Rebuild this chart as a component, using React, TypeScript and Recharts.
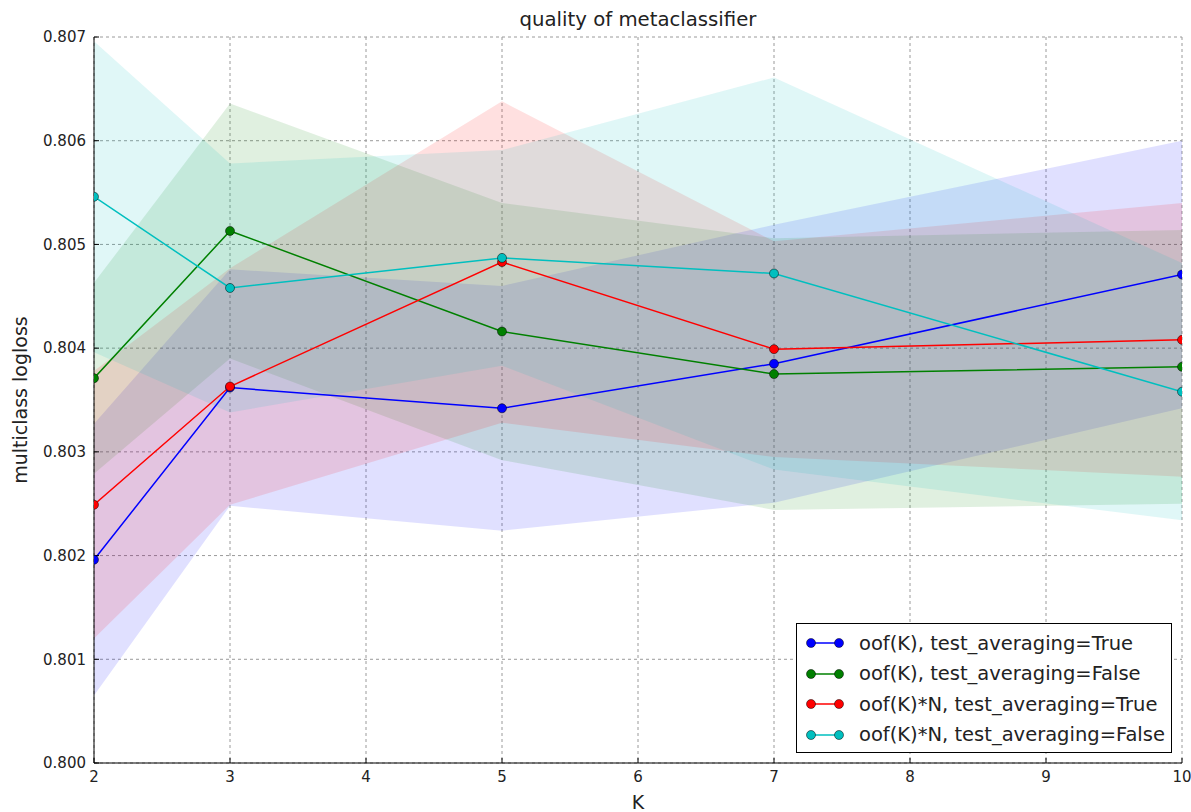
import React from 'react';
import { ComposedChart, Area, Line, XAxis, YAxis, CartesianGrid } from 'recharts';

const K = [2, 3, 5, 7, 10];

const meanOofTrue = [0.80196, 0.80362, 0.80342, 0.80385, 0.80471];
const stdOofTrue = [0.00131, 0.00114, 0.00118, 0.00134, 0.00129];

const meanOofFalse = [0.80371, 0.80513, 0.80416, 0.80375, 0.80382];
const stdOofFalse = [0.00092, 0.00123, 0.00124, 0.00131, 0.00132];

const meanOofNTrue = [0.80249, 0.80363, 0.80483, 0.80399, 0.80408];
const stdOofNTrue = [0.00129, 0.00114, 0.00155, 0.00104, 0.00132];

const meanOofNFalse = [0.80546, 0.80458, 0.80487, 0.80472, 0.80358];
const stdOofNFalse = [0.0015, 0.0012, 0.00104, 0.00189, 0.00124];

const xTicks = [2, 3, 4, 5, 6, 7, 8, 9, 10];
const yTicks = [0.8, 0.801, 0.802, 0.803, 0.804, 0.805, 0.806, 0.807];

const series = [
  { key: 'a', name: 'oof(K), test_averaging=True', color: '#0000ff', mean: meanOofTrue, std: stdOofTrue },
  { key: 'b', name: 'oof(K), test_averaging=False', color: '#008000', mean: meanOofFalse, std: stdOofFalse },
  { key: 'c', name: 'oof(K)*N, test_averaging=True', color: '#ff0000', mean: meanOofNTrue, std: stdOofNTrue },
  { key: 'd', name: 'oof(K)*N, test_averaging=False', color: '#00bfbf', mean: meanOofNFalse, std: stdOofNFalse },
];

const data = K.map((k, i) => {
  const row: any = { k };
  series.forEach((s) => {
    row[s.key] = s.mean[i];
    row[s.key + 'Band'] = [s.mean[i] - s.std[i], s.mean[i] + s.std[i]];
  });
  return row;
});

const FONT = '"DejaVu Sans", sans-serif';
const TEXT = '#222';

const LegendBox = () => (
  <div
    style={{
      position: 'absolute',
      left: 796,
      top: 623,
      border: '1px solid #000',
      background: '#fff',
      width: 376,
      height: 130,
      boxSizing: 'border-box',
      paddingTop: 4,
      fontFamily: FONT,
    }}
  >
    {series.map((s) => (
      <div key={s.key} style={{ display: 'flex', alignItems: 'center', height: 30.5 }}>
        <svg width={60} height={20} style={{ flex: 'none' }}>
          <line x1={14} y1={10} x2={42} y2={10} stroke={s.color} strokeWidth={1.5} />
          <circle cx={14} cy={10} r={4.5} fill={s.color} stroke="#000" strokeWidth={0.5} />
          <circle cx={42} cy={10} r={4.5} fill={s.color} stroke="#000" strokeWidth={0.5} />
        </svg>
        <span style={{ fontSize: 19.5, color: TEXT, marginLeft: 2, whiteSpace: 'nowrap' }}>{s.name}</span>
      </div>
    ))}
  </div>
);

export default function App() {
  return (
    <div style={{ position: 'absolute', left: 0, top: 0, width: 1191, height: 812, background: '#fff', fontFamily: FONT }}>
      <ComposedChart
        width={1191}
        height={812}
        data={data}
        margin={{ top: 37, right: 9, bottom: 0, left: 0 }}
      >
        <CartesianGrid
          stroke="#9a9a9a"
          strokeDasharray="3 3"
          verticalValues={xTicks}
          horizontalValues={yTicks}
        />
        <XAxis
          dataKey="k"
          type="number"
          domain={[2, 10]}
          ticks={xTicks}
          height={49}
          stroke="#000"
          tickSize={-5}
          tickMargin={13}
          tick={{ fill: TEXT, fontSize: 15, fontFamily: FONT }}
          allowDataOverflow
        />
        <XAxis
          xAxisId="top"
          orientation="top"
          type="number"
          domain={[2, 10]}
          ticks={xTicks}
          height={0}
          stroke="#000"
          tickSize={-5}
          tickFormatter={() => ''}
        />
        <YAxis
          type="number"
          domain={[0.8, 0.807]}
          ticks={yTicks}
          width={94}
          stroke="#000"
          tickSize={-5}
          tickMargin={13}
          tickFormatter={(v: number) => v.toFixed(3)}
          tick={{ fill: TEXT, fontSize: 15, fontFamily: FONT }}
          allowDataOverflow
        />
        <YAxis
          yAxisId="right"
          orientation="right"
          type="number"
          domain={[0.8, 0.807]}
          ticks={yTicks}
          width={0}
          stroke="#000"
          tickSize={-5}
          tickFormatter={() => ''}
        />
        {series.map((s) => (
          <Area
            key={s.key + 'Band'}
            type="linear"
            dataKey={s.key + 'Band'}
            fill={s.color}
            fillOpacity={0.12}
            stroke="none"
            isAnimationActive={false}
            activeDot={false}
            legendType="none"
          />
        ))}
        {series.map((s) => (
          <Line
            key={s.key}
            type="linear"
            dataKey={s.key}
            name={s.name}
            stroke={s.color}
            strokeWidth={1.5}
            dot={{ r: 4.5, fill: s.color, stroke: '#000', strokeWidth: 0.5, fillOpacity: 1 }}
            activeDot={false}
            isAnimationActive={false}
          />
        ))}
      </ComposedChart>
      <LegendBox />
      <div
        style={{
          position: 'absolute',
          left: 94,
          width: 1088,
          top: 8,
          textAlign: 'center',
          fontSize: 19.7,
          color: TEXT,
          lineHeight: '24px',
        }}
      >
        quality of metaclassifier
      </div>
      <div
        style={{
          position: 'absolute',
          left: 94,
          width: 1088,
          top: 790,
          textAlign: 'center',
          fontSize: 19,
          color: TEXT,
          lineHeight: '24px',
        }}
      >
        K
      </div>
      <div
        style={{
          position: 'absolute',
          left: 20,
          top: 400,
          transform: 'translate(-50%, -50%) rotate(-90deg)',
          fontSize: 19,
          color: TEXT,
          whiteSpace: 'nowrap',
          lineHeight: '24px',
        }}
      >
        multiclass logloss
      </div>
    </div>
  );
}
